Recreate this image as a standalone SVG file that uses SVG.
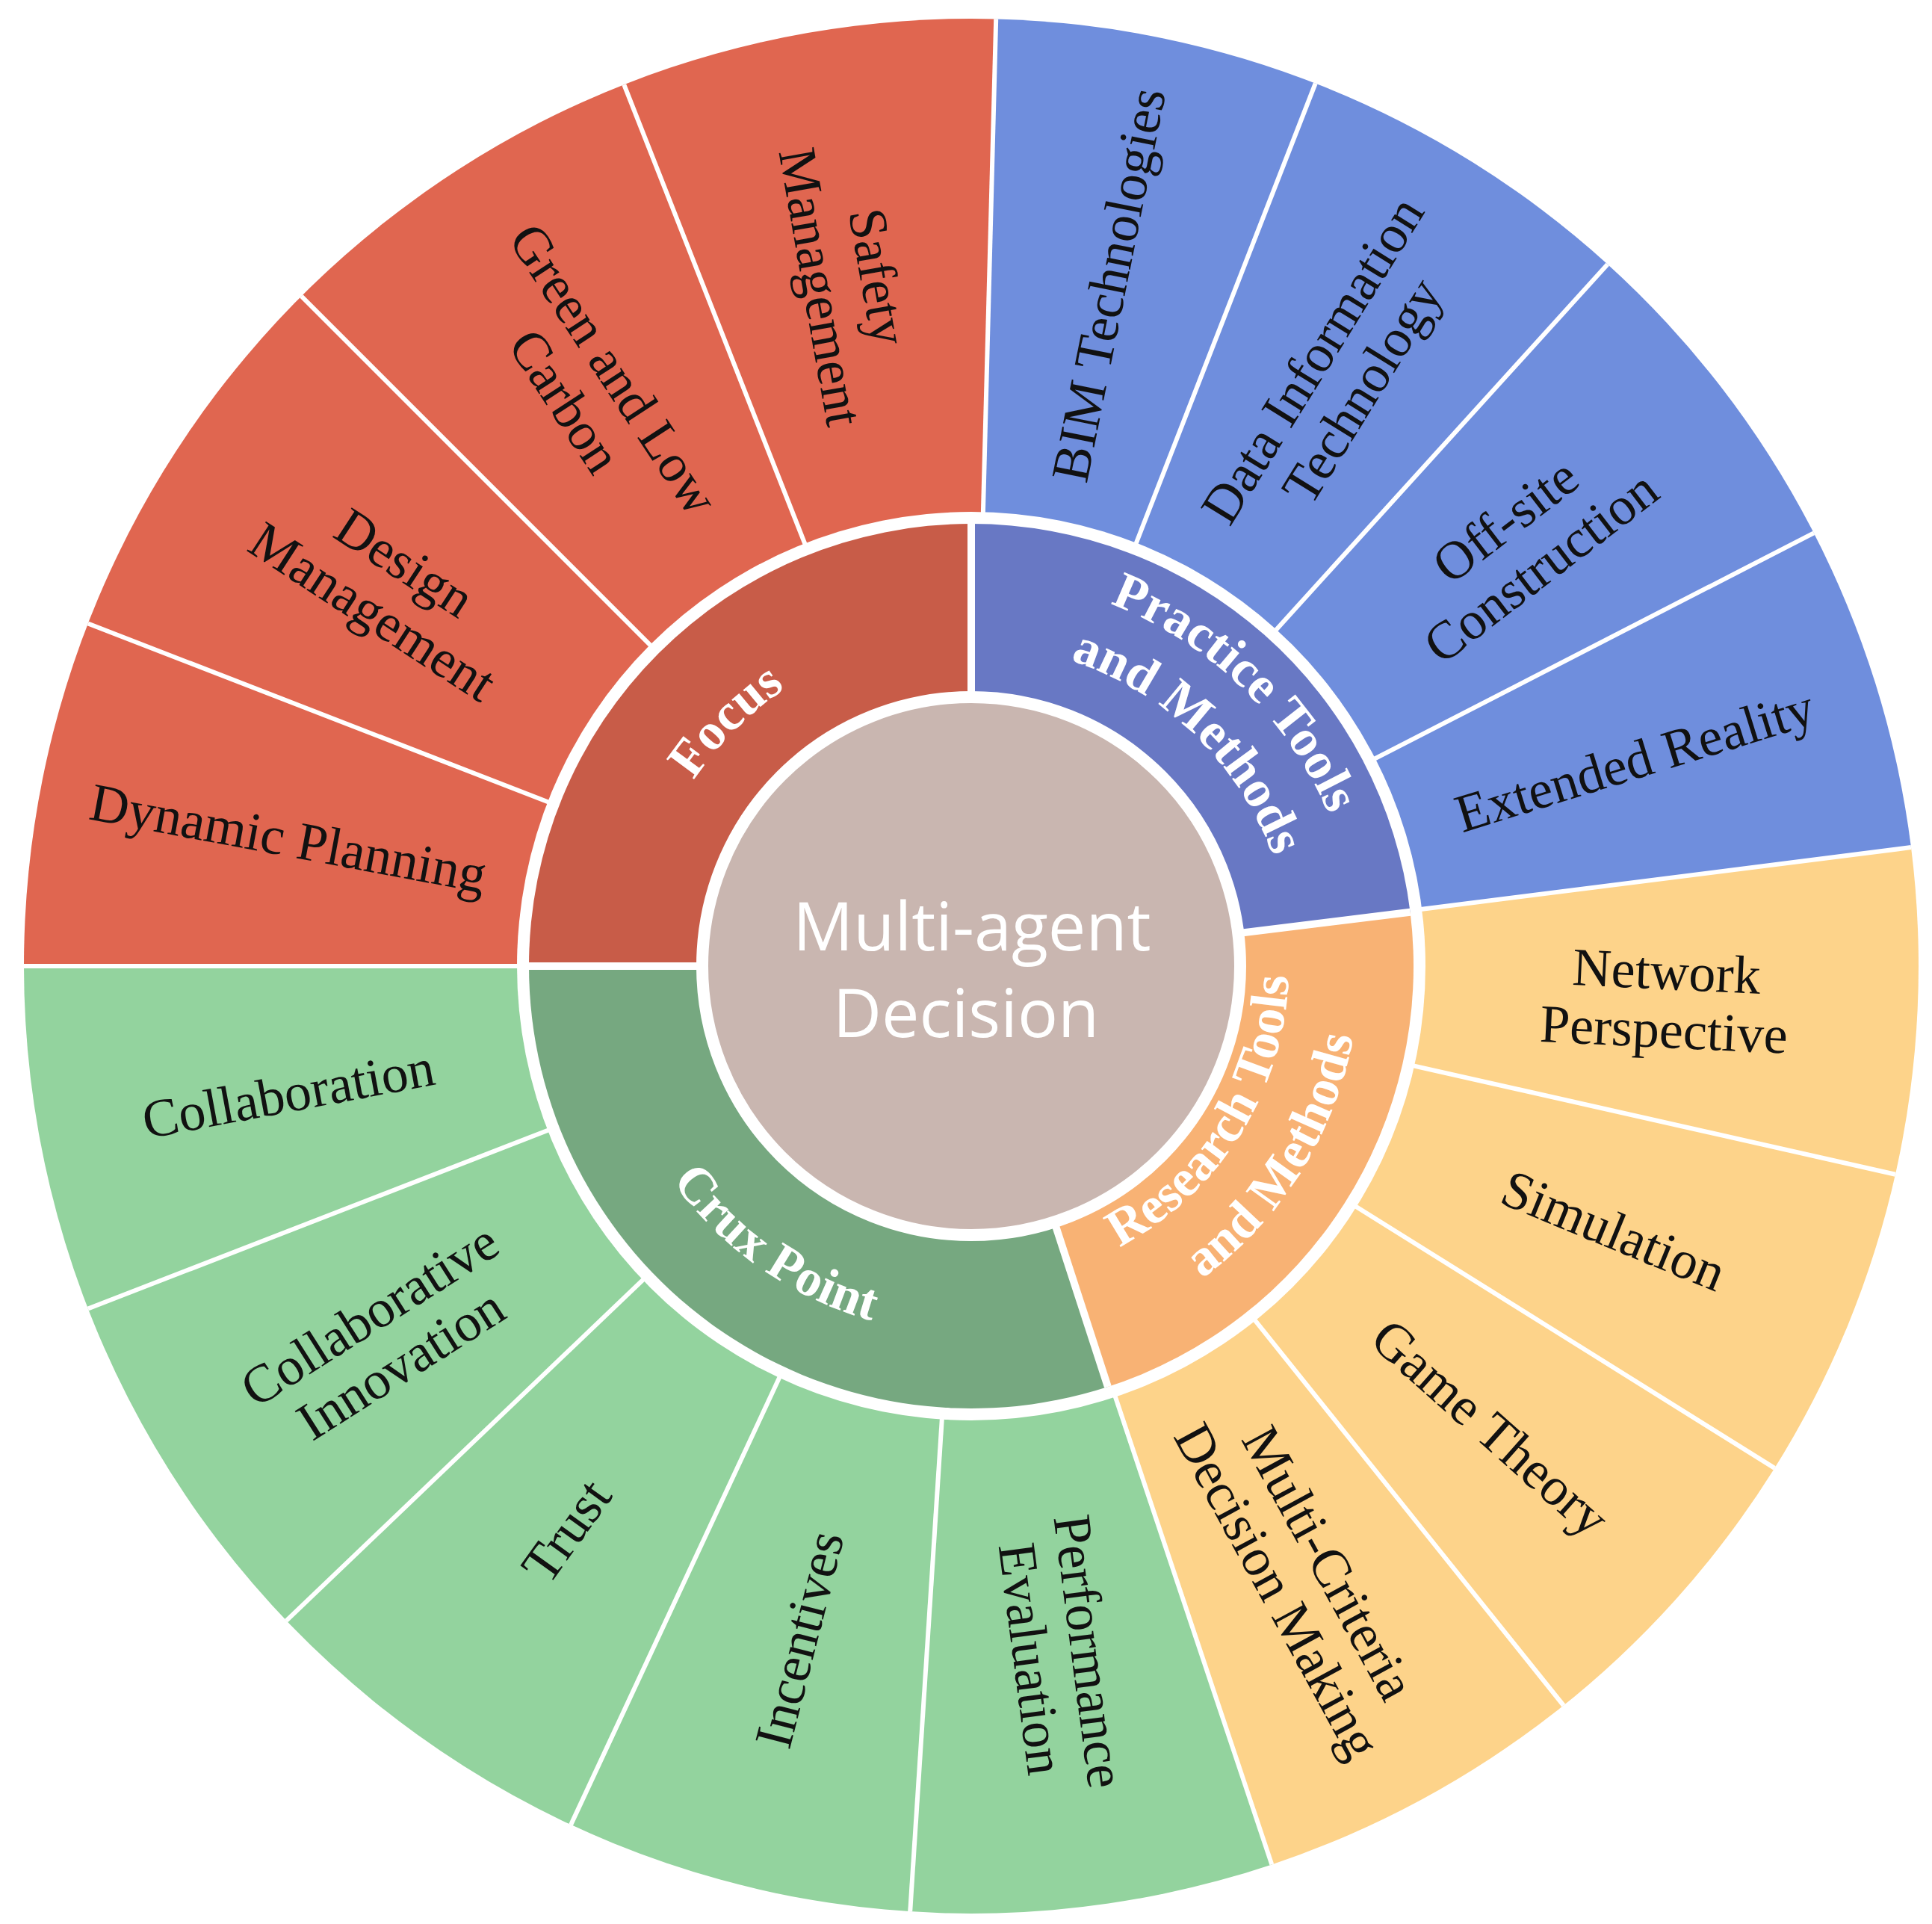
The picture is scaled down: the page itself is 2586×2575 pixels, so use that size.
<svg xmlns="http://www.w3.org/2000/svg" width="2586" height="2575" viewBox="0 0 2586 2575">
<style>
.o{font-family:"Liberation Serif",serif;font-size:72px;fill:#111;text-anchor:middle}
.m{font-family:"Liberation Serif",serif;font-size:70px;font-weight:bold;fill:#fff;text-anchor:middle}
.w{stroke:#fff;stroke-width:6}
.c{font-family:"Open Sans",sans-serif;font-size:90px;fill:#fff;text-anchor:middle}
</style>
<defs>
<path id="pF" d="M868.2 1177.3 A447 447 0 0 1 1184.3 861.2"/>
<path id="pP1" d="M1381.3 780.1 A520 520 0 0 1 1810.4 1193.8"/>
<path id="pP2" d="M1367.3 868.3 A430 430 0 0 1 1722.1 1211"/>
<path id="pR1" d="M1445.4 1692.4 A425 425 0 0 0 1722.7 1248.6"/>
<path id="pR2" d="M1477.9 1781.8 A520 520 0 0 0 1817.2 1238.6"/>
<path id="pC" d="M823.8 1420.6 A493 493 0 0 0 1343 1784.1"/>
</defs>
<rect width="2586" height="2575" fill="#fff"/>
<g id="outer">
<path d="M1300 1293 L32 1293 A1268 1268 0 0 1 1333.2 25.4 Z" fill="#E06650"/>
<path d="M1300 1293 L1333.2 25.4 A1268 1268 0 0 1 2558 1134.1 Z" fill="#6F8EDD"/>
<path d="M1300 1293 L2558 1134.1 A1268 1268 0 0 1 1702.3 2495.4 Z" fill="#FDD38A"/>
<path d="M1300 1293 L1702.3 2495.4 A1268 1268 0 0 1 32 1293 Z" fill="#93D39E"/>
</g>
<g id="connectors" class="w">
<line x1="1300" y1="1293" x2="32" y2="1293"/>
<line x1="1300" y1="1293" x2="117.8" y2="834.5"/>
<line x1="1300" y1="1293" x2="403.4" y2="396.4"/>
<line x1="1300" y1="1293" x2="835.3" y2="113.3"/>
<line x1="1300" y1="1293" x2="1333.2" y2="25.4"/>
<line x1="1300" y1="1293" x2="1760.7" y2="111.6"/>
<line x1="1300" y1="1293" x2="2151.7" y2="353.7"/>
<line x1="1300" y1="1293" x2="2427.8" y2="713.4"/>
<line x1="1300" y1="1293" x2="2558" y2="1134.1"/>
<line x1="1300" y1="1293" x2="2536.9" y2="1571.7"/>
<line x1="1300" y1="1293" x2="2375.3" y2="1964.9"/>
<line x1="1300" y1="1293" x2="2092.8" y2="2282.5"/>
<line x1="1300" y1="1293" x2="1702.3" y2="2495.4"/>
<line x1="1300" y1="1293" x2="1218.2" y2="2558.3"/>
<line x1="1300" y1="1293" x2="764.1" y2="2442.2"/>
<line x1="1300" y1="1293" x2="383.2" y2="2169.1"/>
<line x1="1300" y1="1293" x2="117.8" y2="1751.5"/>
</g>
<circle cx="1300" cy="1293" r="608" fill="#fff"/>
<g id="middle">
<path d="M1300 1293 L708 1293 A592 592 0 0 1 1300 701 Z" fill="#C85C48"/>
<path d="M1300 1293 L1300 701 A592 592 0 0 1 1887.6 1220.8 Z" fill="#6878C4"/>
<path d="M1300 1293 L1887.6 1220.8 A592 592 0 0 1 1482.9 1856 Z" fill="#F8B274"/>
<path d="M1300 1293 L1482.9 1856 A592 592 0 0 1 708 1293 Z" fill="#76A880"/>
<g stroke="#fff" stroke-width="10">
<line x1="1300" y1="1293" x2="708" y2="1293"/>
<line x1="1300" y1="1293" x2="1300" y2="701"/>
<line x1="1300" y1="1293" x2="1887.6" y2="1220.8"/>
<line x1="1300" y1="1293" x2="1482.9" y2="1856"/>
</g>
</g>
<g id="center">
<circle cx="1300" cy="1293" r="360" fill="#C9B6B0" stroke="#fff" stroke-width="16"/>
<text class="c" x="1301" y="1272">Multi-agent</text>
<text class="c" x="1293" y="1388">Decision</text>
</g>
<g id="mid-labels">
<text class="m"><textPath href="#pF" startOffset="50%">Focus</textPath></text>
<text class="m"><textPath href="#pP1" startOffset="50%">Practice Tools</textPath></text>
<text class="m"><textPath href="#pP2" startOffset="50%">and Methods</textPath></text>
<text class="m"><textPath href="#pR1" startOffset="50%">Research Tools</textPath></text>
<text class="m"><textPath href="#pR2" startOffset="50%">and Methods</textPath></text>
<text class="m"><textPath href="#pC" startOffset="50%">Crux Point</textPath></text>
</g>
<g id="outer-labels">
<text class="o" transform="translate(386,1122) rotate(10.6)"><tspan x="0" y="24">Dynamic Planning</tspan></text>
<text class="o" transform="translate(521,785) rotate(33.1)"><tspan x="0" y="-14">Design</tspan><tspan x="0" y="64">Management</tspan></text>
<text class="o" transform="translate(790,515) rotate(56.75)"><tspan x="0" y="-14">Green and Low</tspan><tspan x="0" y="64">Carbon</tspan></text>
<text class="o" transform="translate(1138,377) rotate(80)"><tspan x="0" y="-14">Safety</tspan><tspan x="0" y="64">Management</tspan></text>
<text class="o" transform="translate(1484,381) rotate(-78.6)"><tspan x="0" y="24">BIM Technologies</tspan></text>
<text class="o" transform="translate(1789,502) rotate(-58.25)"><tspan x="0" y="-14">Data Information</tspan><tspan x="0" y="64">Technology</tspan></text>
<text class="o" transform="translate(2038,727) rotate(-37.5)"><tspan x="0" y="-14">Off-site</tspan><tspan x="0" y="64">Construction</tspan></text>
<text class="o" transform="translate(2188,1018) rotate(-17.2)"><tspan x="0" y="24">Extended Reality</tspan></text>
<text class="o" transform="translate(2229,1338) rotate(2.75)"><tspan x="0" y="-14">Network</tspan><tspan x="0" y="64">Perspective</tspan></text>
<text class="o" transform="translate(2160,1647) rotate(22.35)"><tspan x="0" y="24">Simulation</tspan></text>
<text class="o" transform="translate(1995,1911) rotate(41.65)"><tspan x="0" y="24">Game Theory</tspan></text>
<text class="o" transform="translate(1745,2110) rotate(61.4)"><tspan x="0" y="-14">Multi-Criteria</tspan><tspan x="0" y="64">Decision Making</tspan></text>
<text class="o" transform="translate(1420,2215) rotate(82.6)"><tspan x="0" y="-14">Performance</tspan><tspan x="0" y="64">Evaluation</tspan></text>
<text class="o" transform="translate(1070,2194) rotate(-75.65)"><tspan x="0" y="24">Incentives</tspan></text>
<text class="o" transform="translate(758,2049) rotate(-54.35)"><tspan x="0" y="24">Trust</tspan></text>
<text class="o" transform="translate(515,1792) rotate(-32.45)"><tspan x="0" y="-14">Collaborative</tspan><tspan x="0" y="64">Innovation</tspan></text>
<text class="o" transform="translate(386,1464) rotate(-10.6)"><tspan x="0" y="24">Collaboration</tspan></text>
</g>
</svg>
